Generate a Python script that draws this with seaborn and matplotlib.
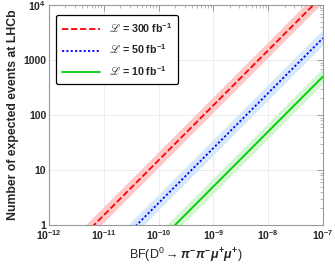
import numpy as np
import pandas as pd
import matplotlib
matplotlib.use("Agg")
import matplotlib.pyplot as plt
import seaborn as sns
from matplotlib.ticker import LogLocator, FixedLocator, NullFormatter

# Data
bf_range = [1e-12, 1e-7]
lumis = [300, 50, 10]
events_per_bf = [1.5e11, 2.5e10, 5.0e9]   # expected events per unit BF
band_low = 0.72
band_high = 1.38
labels = ["$\u2112$ = 300 fb$^{-1}$", "$\u2112$ = 50 fb$^{-1}$", "$\u2112$ = 10 fb$^{-1}$"]
line_colors = ["#ff0000", "#0000ff", "#00cc00"]
band_colors = ["#ffc8c8", "#d6e8fb", "#d4f5d4"]
styles = [(0, (3.5, 1.5)), (0, (1.2, 1.2)), "-"]
yticks = [1, 10, 100, 1000, 10000]
yticklabels = ["1", "10", "100", "1000", r"10$^{4}$"]
xticks = [1e-12, 1e-11, 1e-10, 1e-9, 1e-8, 1e-7]
xticklabels = [r"10$^{-12}$", r"10$^{-11}$", r"10$^{-10}$", r"10$^{-9}$", r"10$^{-8}$", r"10$^{-7}$"]

sns.set_style("white")
plt.rcParams["font.family"] = ["Liberation Sans", "DejaVu Sans"]
plt.rcParams["mathtext.fontset"] = "custom"
plt.rcParams["mathtext.rm"] = "Liberation Sans:bold"
plt.rcParams["mathtext.it"] = "Liberation Sans:bold:italic"
plt.rcParams["mathtext.bf"] = "Liberation Sans:bold"
plt.rcParams["mathtext.sf"] = "Liberation Sans"
plt.rcParams["mathtext.fallback"] = "stix"

fig = plt.figure(figsize=(3.35, 2.65), dpi=100)
ax = fig.add_axes([0.146, 0.151, 0.818, 0.830])

bf = np.logspace(np.log10(bf_range[0]), np.log10(bf_range[1]), 200)
rows = []
for lab, k in zip(labels, events_per_bf):
    for b in bf:
        rows.append({"BF": b, "N": k * b, "series": lab})
df = pd.DataFrame(rows)

for lab, k, bc in zip(labels, events_per_bf, band_colors):
    ax.fill_between(bf, k * bf * band_low, k * bf * band_high, color=bc, lw=0, zorder=1)

for lab, lc, ls in zip(labels, line_colors, styles):
    sub = df[df["series"] == lab]
    sns.lineplot(data=sub, x="BF", y="N", ax=ax, color=lc, lw=1.3, linestyle=ls, label=lab, zorder=3)

ax.set_xscale("log")
ax.set_yscale("log")
ax.set_xlim(bf_range)
ax.set_ylim(1, 1e4)

ax.grid(True, which="major", color="#ececec", lw=0.7, zorder=0)
ax.set_axisbelow(True)
ax.xaxis.set_major_locator(FixedLocator(xticks))
ax.set_xticklabels(xticklabels)
ax.yaxis.set_major_locator(FixedLocator(yticks))
ax.set_yticklabels(yticklabels)
ax.xaxis.set_minor_locator(LogLocator(base=10, subs=np.arange(2, 10), numticks=20))
ax.yaxis.set_minor_locator(LogLocator(base=10, subs=np.arange(2, 10), numticks=20))
ax.xaxis.set_minor_formatter(NullFormatter())
ax.yaxis.set_minor_formatter(NullFormatter())
ax.tick_params(which="both", direction="in", top=True, right=True, color="#999999")
ax.tick_params(which="major", length=4, width=0.7, labelsize=7.5, pad=2)
ax.tick_params(which="minor", length=2, width=0.5)
for lbl in ax.get_xticklabels() + ax.get_yticklabels():
    lbl.set_fontweight("bold")
for s in ax.spines.values():
    s.set_color("#999999")
    s.set_linewidth(0.8)

ax.set_ylabel("Number of expected events at LHCb", fontsize=8.8, fontweight="bold", labelpad=3)
ax.set_xlabel("BF(D$^{\\mathsf{0}}$$\\rightarrow$$\\mathit{\\pi}^{-}\\mathit{\\pi}^{-}\\mathit{\\mu}^{+}\\mathit{\\mu}^{+}$)",
              fontsize=9, labelpad=3)

leg = ax.legend(loc="upper left", bbox_to_anchor=(0.018, 0.965), frameon=True, fancybox=True,
                prop={"weight": "bold", "size": 7.7}, handlelength=3.6, borderpad=0.55,
                labelspacing=0.75, handletextpad=0.8, borderaxespad=0.2)
leg.get_frame().set_edgecolor("black")
leg.get_frame().set_linewidth(0.9)
leg.get_frame().set_alpha(1)

fig.savefig("out.png", dpi=100)
